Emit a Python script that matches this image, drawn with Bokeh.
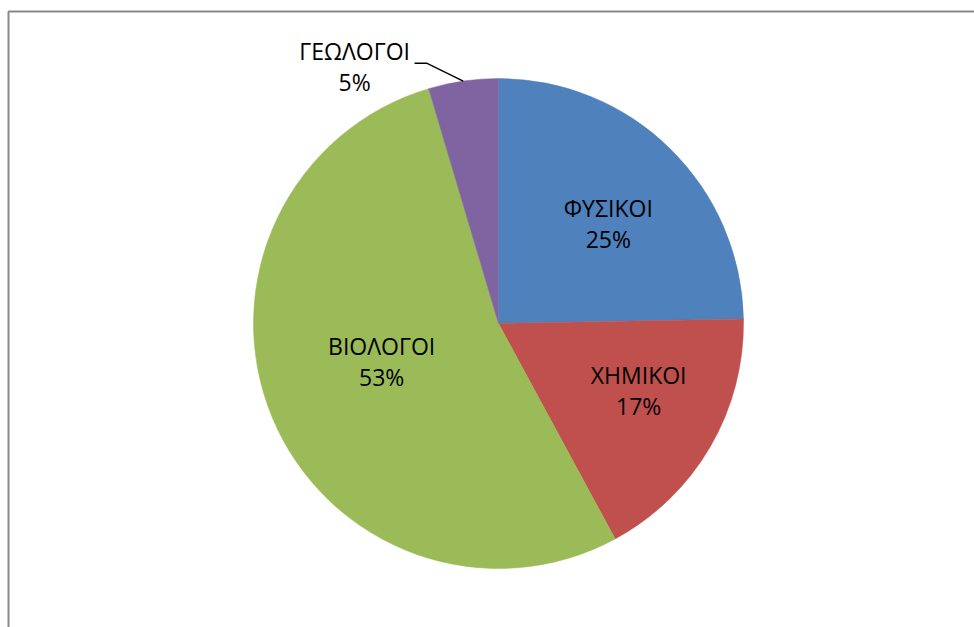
import math
from bokeh.plotting import figure
from bokeh.models import Range1d
from bokeh.core.properties import value
from bokeh.embed import file_html
from bokeh.resources import INLINE

# ---- data ----
categories = ["ΦΥΣΙΚΟΙ", "ΧΗΜΙΚΟΙ", "ΒΙΟΛΟΓΟΙ", "ΓΕΩΛΟΓΟΙ"]
shares = [24.7, 17.4, 53.3, 4.6]
colors = ["#4F81BD", "#C0504D", "#9BBB59", "#8064A2"]

# ---- layout (pixel-like data units) ----
W, H = 974, 627
cx, cy, R = 498, 304, 245
# label placement: fraction of radius and angular nudge (deg) from slice mid-angle
label_frac = [0.596, 0.64, 0.506, 1.19]
label_nudge = [-4.3, 3.6, -3.0, 21.3]
line_gap = 15.5
text_shift = 3.5
font = "Open Sans"
fsize = "23px"

p = figure(width=W, height=H, x_range=Range1d(0, W), y_range=Range1d(0, H),
           output_backend="svg", toolbar_location=None, min_border=0)
p.axis.visible = False
p.grid.visible = False
p.outline_line_color = None
p.background_fill_color = "white"

# chart-area frame (only top & left visible in the window)
p.line([8, 8, W], [0, H - 11, H - 11], line_color="#898989", line_width=2)

total = sum(shares)
starts, ends, mids = [], [], []
acc = 0.0
for v in shares:
    a0 = 90 - 360 * acc / total
    acc += v
    a1 = 90 - 360 * acc / total
    starts.append(math.radians(a0))
    ends.append(math.radians(a1))
    mids.append((a0 + a1) / 2)

p.wedge(x=cx, y=cy, radius=R, start_angle=starts, end_angle=ends,
        direction="clock", fill_color=colors, line_color=colors, line_width=0.5)

lx, ly, pct = [], [], []
for i, v in enumerate(shares):
    ang = math.radians(mids[i] + label_nudge[i])
    lx.append(cx + R * label_frac[i] * math.cos(ang))
    ly.append(cy + R * label_frac[i] * math.sin(ang))
    pct.append(f"{int(math.floor(100 * v / total + 0.5))}%")

p.text(x=lx, y=[y + line_gap + text_shift for y in ly], text=categories,
       text_align="center", text_baseline="middle",
       text_font=value(font), text_font_size=fsize, text_color="black")
p.text(x=lx, y=[y - line_gap + text_shift for y in ly], text=pct,
       text_align="center", text_baseline="middle",
       text_font=value(font), text_font_size=fsize, text_color="black")

# leader line for the small outside slice
i = 3
ma = math.radians(mids[i])
ex, ey = cx + R * math.cos(ma), cy + R * math.sin(ma)
elbow_x, elbow_y = lx[i] + 72, ly[i] + 6.8
p.line([ex, elbow_x, elbow_x - 12], [ey, elbow_y, elbow_y],
       line_color="black", line_width=1.5)

open("out.html", "w").write(file_html(p, INLINE))
